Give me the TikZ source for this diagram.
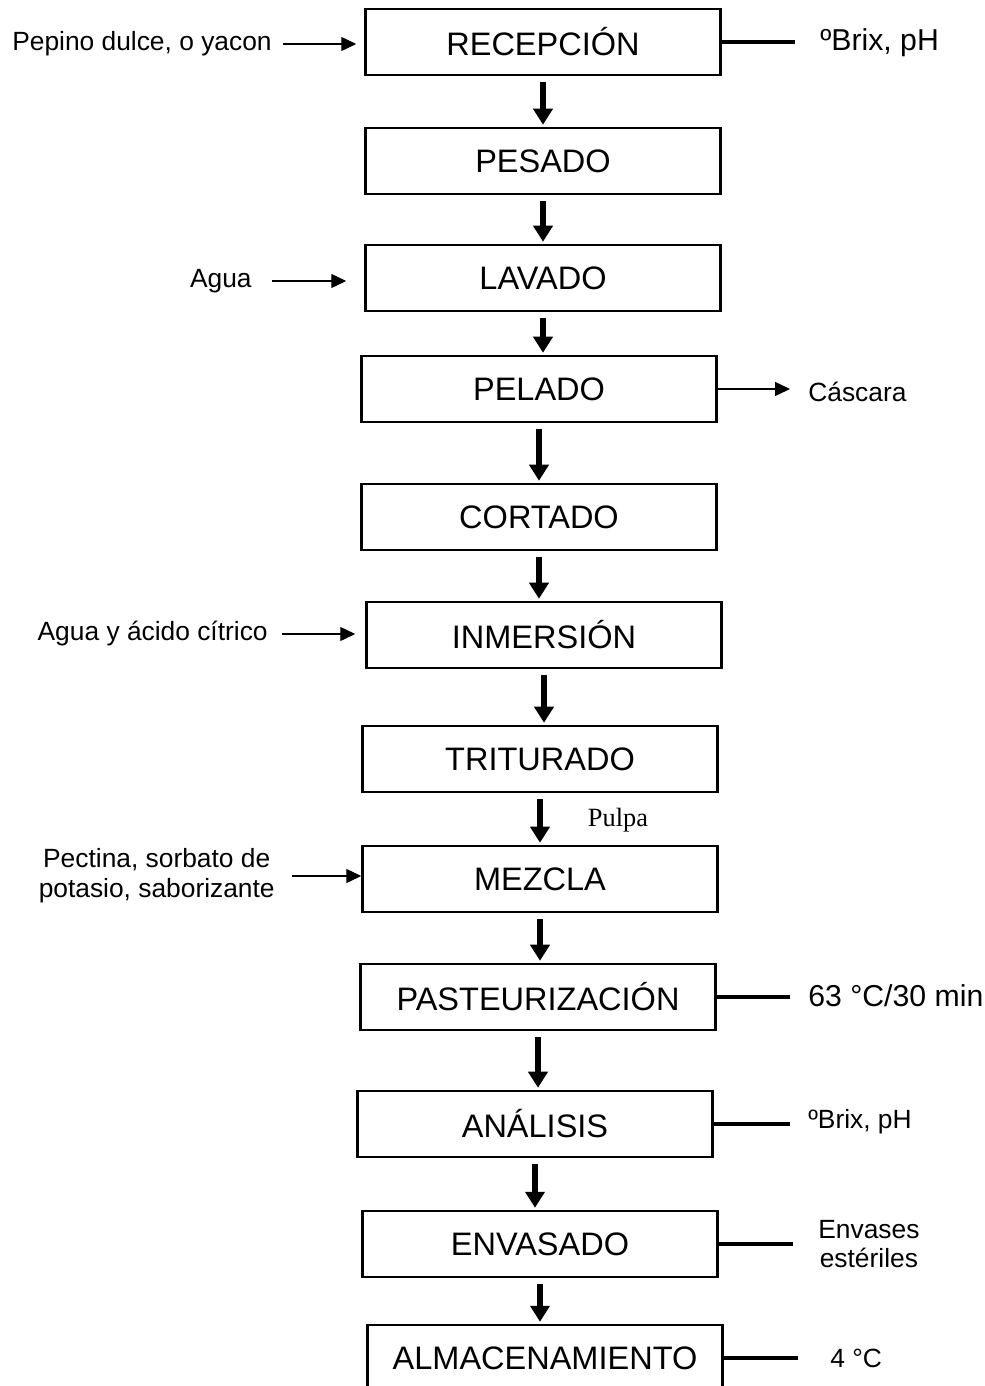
\documentclass[tikz,border=0pt]{standalone}
\usepackage{fontspec}
\setmainfont{Liberation Sans}
\newfontfamily\romana{Liberation Serif}
\usetikzlibrary{arrows.meta}
\tikzset{
  flujo/.style={x=0.02cm,y=-0.02cm},
  etapa/.style={draw,line width=1.45pt,minimum width=7.1cm,minimum height=1.32cm,inner sep=0pt,
    font=\fontsize{18.5}{22}\selectfont},
  dato/.style={inner sep=0pt,align=center,font=\fontsize{15}{17}\selectfont},
  grande/.style={font=\fontsize{17.2}{20}\selectfont},
  paso/.style={line width=2.9pt,-{Triangle[width=0.38cm,length=0.32cm]},shorten <=0.12cm,shorten >=0.04cm},
  entra/.style={line width=0.75pt,-{Triangle[width=0.28cm,length=0.3cm]}},
  control/.style={line width=2pt},
}

\begin{document}
\begin{tikzpicture}[flujo]
    \clip (0,0) rectangle (984,1386);
    % etapas del proceso
    \foreach \n/\x/\y/\t in {recep/543/42/RECEPCIÓN, pesado/543/161/PESADO, lavado/543/278/LAVADO,
        pelado/539/389/PELADO, cortado/539/517/CORTADO, inmersion/544/635/INMERSIÓN,
        triturado/540/759/TRITURADO, mezcla/540/879/MEZCLA, pasteur/538/997/PASTEURIZACIÓN,
        analisis/535/1124/ANÁLISIS, envasado/540/1244/ENVASADO, almacen/545/1358/ALMACENAMIENTO}
      \node[etapa] (\n) at (\x,\y) {\t};
    \foreach \a/\b in {recep/pesado, pesado/lavado, lavado/pelado, pelado/cortado, cortado/inmersion,
        inmersion/triturado, triturado/mezcla, mezcla/pasteur, pasteur/analisis, analisis/envasado,
        envasado/almacen}
      \draw[paso] (\a.south) -- (\a.south |- \b.north);
    % entradas
    \node[dato,anchor=east] (pepino) at (272,44) {Pepino dulce, o yacon};
    \node[dato,anchor=east] (agua) at (252,281) {Agua};
    \node[dato,anchor=east] (acido) at (268,634) {Agua y ácido cítrico};
    \node[dato,anchor=east] (pectina) at (275,876) {Pectina, sorbato de\\potasio, saborizante};
    \draw[entra,shorten <=0.22cm,shorten >=0.16cm] (pepino) -- (pepino -| recep.west);
    \draw[entra,shorten <=0.4cm,shorten >=0.36cm] (agua) -- (agua -| lavado.west);
    \draw[entra,shorten <=0.28cm,shorten >=0.2cm] (acido) -- (acido -| inmersion.west);
    \draw[entra,shorten <=0.34cm] (pectina) -- (pectina -| mezcla.west);
    \node[font=\romana\fontsize{15}{17}\selectfont] (pulpa) at (618,820) {Pulpa};
    % salidas y controles
    \node[dato,grande,anchor=west] (brixA) at (820,43) {ºBrix, pH};
    \node[dato,anchor=west] (cascara) at (808,392) {Cáscara};
    \node[dato,grande,anchor=west] (temp) at (808,996) {63 °C/30 min};
    \node[dato,anchor=west] (brixB) at (808,1122) {ºBrix, pH};
    \node[dato,anchor=west] (envases) at (818,1244) {Envases\\estériles};
    \node[dato,anchor=west] (frio) at (830,1358) {4 °C};
    \draw[control,shorten >=0.5cm] (recep) -- (recep -| brixA.west);
    \draw[entra,shorten >=0.36cm] (pelado) -- (pelado -| cascara.west);
    \draw[control,shorten >=0.36cm] (pasteur) -- (pasteur -| temp.west);
    \draw[control,shorten >=0.36cm] (analisis) -- (analisis -| brixB.west);
    \draw[control,shorten >=0.5cm] (envasado) -- (envasado -| envases.west);
    \draw[control,shorten >=0.64cm] (almacen) -- (almacen -| frio.west);
\end{tikzpicture}
\end{document}
